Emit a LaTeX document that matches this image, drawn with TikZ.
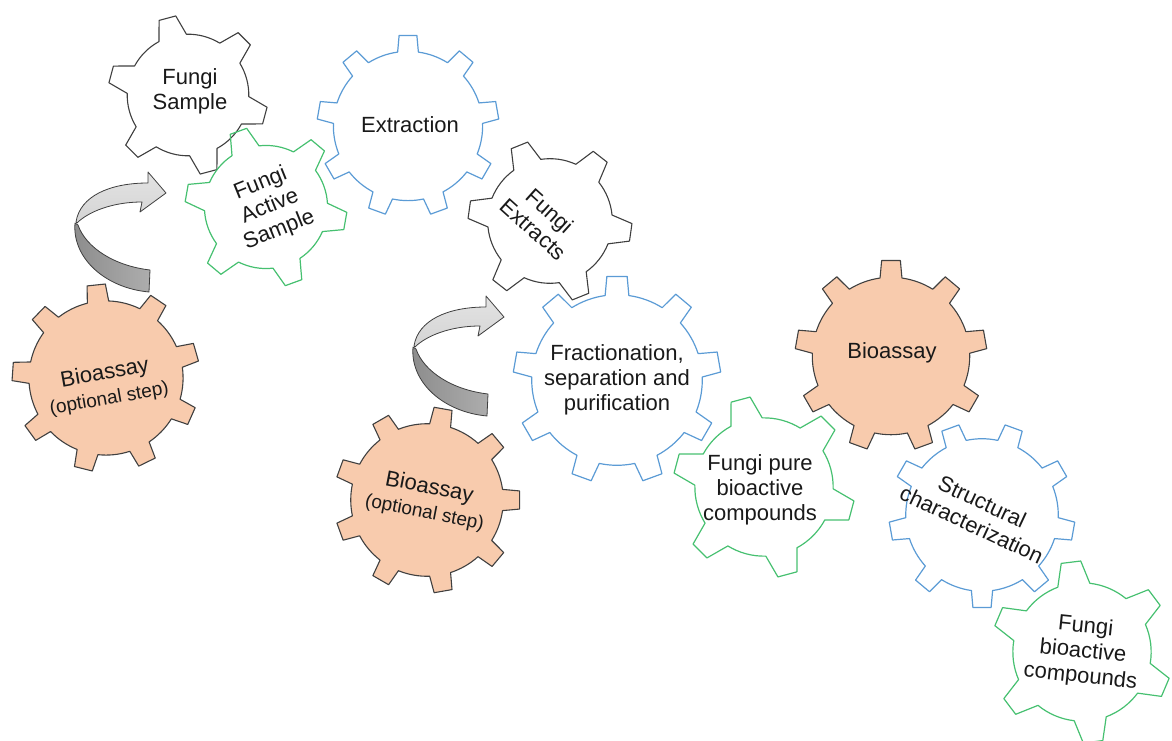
\documentclass[tikz,border=0pt]{standalone}
\usepackage{fontspec}
\setmainfont{Liberation Sans}

% A cog outline: style, centre, teeth, tip radius, root radius,
% angle of the first tooth, tip half-angle, root half-angle
\newcommand\drawgear[8]{%
  \begin{scope}[shift={#2}]
    \draw[#1] ({#6-#8}:{#5})
      \foreach \k in {1,...,#3}{
        -- ({#6+(\k-1)*360/#3-#7}:{#4})
        -- ({#6+(\k-1)*360/#3+#7}:{#4})
        -- ({#6+(\k-1)*360/#3+#8}:{#5})
        arc[start angle={#6+(\k-1)*360/#3+#8}, end angle={#6+\k*360/#3-#8}, radius={#5}]
      } -- cycle;
  \end{scope}}
\newcommand\gearsix[4]{\drawgear{#1}{#2}{6}{#3}{0.76*#3}{#4}{6.2}{13.5}}
\newcommand\gearnine[4]{\drawgear{#1}{#2}{9}{#3}{0.82*#3}{#4}{5.6}{8}}
\newcommand\notefont{\fontsize{19}{22}\selectfont}

\definecolor{gearblack}{HTML}{3F3F3F}
\definecolor{gearblue}{HTML}{5B9BD5}
\definecolor{geargreen}{HTML}{46C070}
\definecolor{salmon}{HTML}{F8CBAD}
\definecolor{salmonline}{HTML}{404040}
\definecolor{ribbonlight}{HTML}{D4D4D4}
\definecolor{ribbonlighttop}{HTML}{E3E3E3}
\definecolor{ribbondark}{HTML}{8C8C8C}
\definecolor{ribbondarkend}{HTML}{ADADAD}

\tikzset{
  blackgear/.style={draw=gearblack, line width=1.1pt, line join=round},
  bluegear/.style={draw=gearblue, line width=1.2pt, line join=round},
  greengear/.style={draw=geargreen, line width=1.2pt, line join=round},
  salmongear/.style={draw=salmonline, fill=salmon, line width=1.1pt, line join=round},
  gtext/.style={align=center, font=\fontsize{22}{25}\selectfont, text=black!90, inner sep=0pt},
  ribbonedge/.style={draw=gearblack, line width=0.8pt, line join=round},
  pics/twistarrow/.style={code={
    % underside of the ribbon
    \path[ribbonedge, left color=ribbondark, right color=ribbondarkend]
      (75,517) .. controls (72,482) and (105,452) .. (149,448)
      -- (150,470) .. controls (115,474) and (86,492) .. (78,515) -- cycle;
    % upper side of the ribbon with its head
    \path[ribbonedge, top color=ribbonlighttop, bottom color=ribbonlight]
      (76,518) .. controls (80,544) and (110,557) .. (148,557)
      -- (148,568) -- (166,547) -- (140,528) -- (142,538)
      .. controls (112,538) and (88,528) .. (77,517) -- cycle;
  }}
}

\begin{document}
\begin{tikzpicture}[x=1pt, y=1pt]
  \useasboundingbox (0,0) rectangle (1172,740);
  \clip (0,0) rectangle (1172,740);

  % outline cogs
  \gearsix{blackgear}{(188,645)}{80}{45}
  \gearsix{greengear}{(266,533)}{81}{50}
  \gearnine{bluegear}{(408,614)}{91}{90}
  \gearsix{blackgear}{(550,519)}{82}{52}
  \gearnine{bluegear}{(617,360)}{104}{90}
  \gearsix{greengear}{(764,253)}{91}{45}
  \gearnine{bluegear}{(982,225)}{93}{30}
  \gearsix{greengear}{(1082,88)}{91}{37}

  % filled bioassay cogs
  \gearnine{salmongear}{(106,362)}{94}{16}
  \gearnine{salmongear}{(427,240)}{93}{0}
  \gearnine{salmongear}{(891,384)}{96}{90}

  % twisted arrows
  \pic at (0,0) {twistarrow};
  \pic at (338,-124) {twistarrow};

  % labels
  \node[gtext] (sample) at (190,649) {Fungi\\Sample};
  \node[gtext, rotate=22] (active) at (270,533) {Fungi\\Active\\Sample};
  \node[gtext] (extraction) at (410,615) {Extraction};
  \node[gtext, rotate=-42] (extracts) at (542,520) {Fungi\\Extracts};
  \node[gtext, rotate=10] (bioA) at (107,354) {Bioassay\\{\notefont (optional step)}};
  \node[gtext, rotate=-11] (bioB) at (427,240) {Bioassay\\{\notefont (optional step)}};
  \node[gtext] (fraction) at (617,360) {Fractionation,\\separation and\\purification};
  \node[gtext] (pure) at (760,250) {Fungi pure\\bioactive\\compounds};
  \node[gtext] (bioC) at (892,387) {Bioassay};
  \node[gtext, rotate=-25] (struct) at (977,227) {Structural\\characterization};
  \node[gtext, rotate=-6] (final) at (1083,88) {Fungi\\bioactive\\compounds};
\end{tikzpicture}
\end{document}
